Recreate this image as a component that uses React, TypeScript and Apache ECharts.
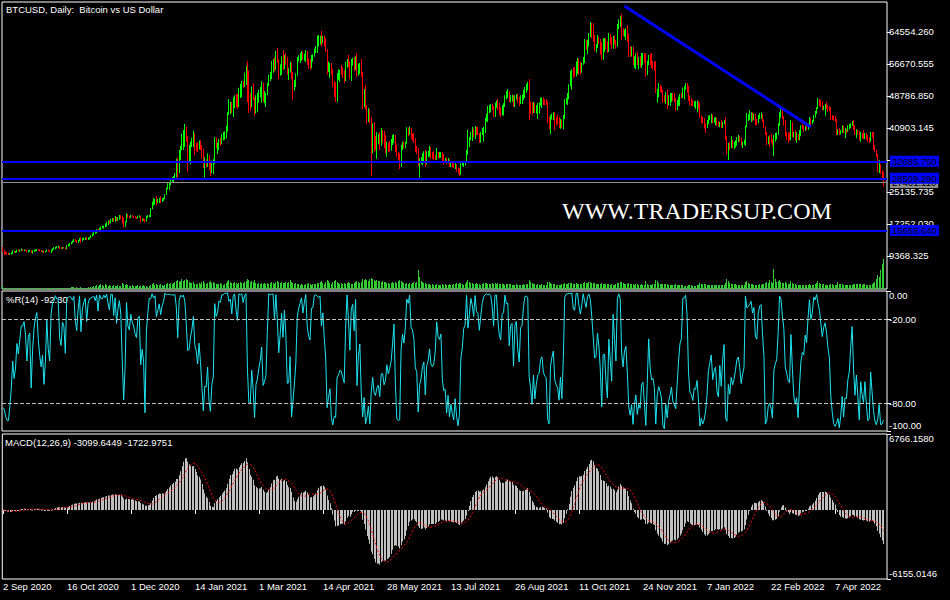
import React, { useEffect, useRef } from "react";
import * as echarts from "echarts";

// ---------- data (prices in thousands of USD) ----------
const tickLabels = [
  "2 Sep 2020", "16 Oct 2020", "1 Dec 2020", "14 Jan 2021", "1 Mar 2021", "14 Apr 2021", "28 May 2021",
  "13 Jul 2021", "26 Aug 2021", "11 Oct 2021", "24 Nov 2021", "7 Jan 2022", "22 Feb 2022", "7 Apr 2022",
];
const barsPerLabel = 45;
const firstOpen = 11.5;

const highs = [
  11.6,10.9,10.5,10.3,10.2,10.1,10.3,10.8,10.7,10.6,
  11.0,10.95,11.0,11.2,11.1,11.0,11.0,10.9,10.8,10.85,
  10.75,10.8,10.9,11.05,11.1,11.05,10.95,10.8,10.7,10.7,
  10.6,11.0,10.95,10.8,11.0,11.3,11.5,11.6,11.85,11.9,
  11.85,11.55,11.6,11.6,11.55,12.05,12.3,12.6,12.85,13.2,
  13.55,13.5,13.4,13.3,13.8,14.0,13.8,13.9,13.95,14.0,
  13.9,14.05,14.5,14.9,15.3,15.5,16.0,16.1,16.3,16.7,
  16.8,16.8,17.4,17.8,18.2,18.1,18.5,18.7,18.8,19.2,
  19.0,18.9,19.45,19.4,19.3,18.9,17.9,19.9,19.7,19.3,
  19.5,19.4,19.3,19.2,19.0,19.3,19.4,19.3,18.6,18.7,
  18.5,19.3,19.4,19.45,21.2,22.8,23.6,23.5,24.1,23.5,
  23.65,24.1,23.6,23.7,24.6,26.2,27.3,27.4,28.5,28.8,
  29.1,29.8,33.3,33.5,35.5,36.5,39.5,40.4,41.9,41.3,
  38.9,36.7,37.5,38.5,40.2,39.7,37.2,37.4,37.9,37.8,
  36.7,35.7,33.7,33.2,34.7,34.2,32.5,32.9,33.2,38.7,
  38.6,37.3,38.2,38.5,39.5,39.9,40.1,41.5,44.8,48.0,
  47.3,47.3,48.5,49.0,49.3,49.3,50.8,51.8,52.5,52.5,
  54.5,56.2,57.4,55.0,49.5,51.2,52.0,48.5,49.0,49.5,
  50.3,51.0,52.4,52.1,50.0,49.5,52.0,54.0,54.7,57.4,
  57.9,58.4,59.9,60.6,57.8,56.6,58.6,60.1,58.9,59.4,
  58.4,55.6,57.2,57.0,54.7,52.7,54.4,58.4,58.8,59.4,
  59.9,59.6,59.2,60.1,59.9,58.1,57.9,58.9,59.1,60.5,
  61.1,63.6,63.8,63.6,64.8,63.6,63.7,63.0,60.3,57.3,
  56.9,56.9,55.4,52.5,52.2,54.4,55.4,55.2,56.4,55.9,
  55.2,57.2,57.9,58.9,57.4,57.9,58.2,58.4,58.6,59.4,
  56.8,56.9,57.9,54.7,50.5,51.5,46.6,45.8,45.5,43.6,
  42.1,42.3,39.0,39.9,39.5,39.9,40.9,40.4,40.2,39.2,
  37.5,37.3,37.7,38.2,39.2,39.4,39.2,36.7,35.0,34.7,
  36.7,37.5,37.6,37.5,41.1,41.0,41.2,40.9,39.6,39.7,
  38.4,36.5,36.0,33.5,33.7,34.7,35.2,35.5,35.2,35.3,
  36.5,36.2,35.0,35.2,34.3,36.0,35.0,35.0,35.0,34.9,
  34.5,33.5,33.6,33.5,33.2,32.5,32.6,32.7,32.3,32.0,
  31.2,31.0,32.5,32.6,32.5,32.6,35.5,40.4,38.7,40.0,
  41.2,40.7,41.4,41.2,41.2,39.7,39.9,40.9,41.2,43.4,
  44.5,46.3,46.6,46.8,46.9,46.3,47.1,47.7,48.1,47.1,
  46.1,46.6,47.0,49.0,50.0,50.5,50.0,49.0,49.1,49.0,
  49.0,49.3,49.3,48.6,49.0,49.1,50.3,51.0,51.8,52.3,
  52.9,47.4,47.3,47.3,47.1,46.5,47.1,47.2,48.4,48.4,
  48.5,48.0,48.0,47.5,43.7,44.1,44.5,44.8,44.8,43.6,
  44.3,43.6,43.2,43.0,44.1,48.0,48.4,49.5,51.7,55.0,
  55.4,55.9,55.9,57.3,58.2,58.0,57.2,57.0,58.4,62.8,
  62.5,62.6,64.3,67.0,66.8,66.7,63.8,61.6,63.8,63.3,
  62.8,62.0,63.0,63.1,63.0,62.3,64.3,64.1,63.3,63.6,
  63.6,62.6,66.5,67.7,68.5,69.0,65.5,65.2,65.5,66.3,
  64.1,61.1,60.9,60.9,58.6,59.3,59.6,58.4,58.6,59.4,
  59.4,59.3,59.4,57.5,58.9,59.1,59.4,57.4,57.3,57.4,
  50.5,52.0,51.5,51.2,50.4,49.0,49.8,50.3,49.0,49.5,
  49.5,49.5,49.5,48.3,47.8,48.6,49.3,49.5,50.8,51.2,
  52.0,52.0,51.3,49.0,48.3,47.8,47.5,47.6,47.6,47.5,
  47.1,43.9,43.6,43.4,42.0,42.9,43.9,44.1,44.4,44.2,
  43.5,43.6,43.4,42.6,42.4,42.9,42.4,42.8,43.6,38.9,
  37.2,37.4,38.9,38.0,37.5,37.9,38.7,39.2,39.0,38.5,
  37.5,38.0,41.5,44.6,44.3,45.3,44.8,44.8,44.5,44.4,
  43.2,44.1,44.6,44.8,44.4,43.0,41.3,39.9,38.9,39.2,
  39.4,38.1,39.2,39.7,39.8,42.1,44.8,45.6,45.3,43.8,
  42.9,39.9,39.7,39.9,42.9,42.4,40.0,40.4,39.9,39.5,
  40.4,41.6,41.8,41.6,41.4,41.6,42.0,43.6,43.3,42.9,
  44.1,45.1,46.0,48.3,48.1,47.8,47.5,46.4,46.8,47.3,
  46.6,46.3,46.0,44.1,43.9,43.9,43.1,40.6,40.9,40.4,
  41.6,41.4,40.9,40.7,41.6,41.9,42.1,42.6,42.9,41.6,
  40.6,40.5,40.2,39.9,39.6,40.4,39.7,39.6,39.2,38.6,
  39.9,39.9,39.9,36.7,35.6,34.5,33.0,32.0,30.5,30.1,
];

const lows = [
  10.4,9.7,9.7,9.65,9.6,9.65,9.7,9.9,10.2,10.1,
  10.2,10.5,10.4,10.6,10.6,10.6,10.6,10.2,10.2,10.4,
  10.1,9.9,10.4,10.5,10.6,10.6,10.45,10.3,10.3,10.1,
  10.2,10.4,10.45,10.35,10.1,10.6,11.0,11.0,11.3,11.4,
  11.1,11.1,11.1,11.2,10.9,11.1,11.7,11.8,12.2,12.5,
  12.8,12.8,12.6,12.6,13.0,12.6,13.0,13.3,13.3,13.3,
  13.3,13.5,13.8,14.2,14.4,14.8,15.0,15.4,15.3,15.8,
  16.2,16.1,16.5,16.6,17.0,17.3,17.4,17.8,17.8,17.8,
  18.0,18.0,18.3,18.4,17.4,16.3,16.5,17.6,18.8,18.6,
  18.7,18.9,18.7,18.6,18.5,18.6,18.8,17.6,17.9,18.0,
  17.6,17.8,18.8,18.9,19.0,20.9,21.8,22.0,21.9,22.4,
  22.4,22.4,22.7,22.9,23.4,24.4,25.8,25.7,26.8,27.7,
  27.6,28.1,28.8,28.1,29.8,33.0,35.5,35.5,36.2,37.5,
  30.1,32.3,32.0,36.2,36.2,34.2,35.2,35.0,35.6,35.5,
  33.3,31.0,28.8,31.2,31.3,30.6,29.1,29.8,29.6,32.0,
  35.9,34.5,35.5,36.5,36.9,37.9,38.0,38.3,40.0,44.1,
  44.3,44.6,43.6,45.8,46.0,45.6,46.1,48.3,48.5,50.8,
  51.0,51.5,47.3,44.6,45.0,46.0,47.8,43.9,44.5,44.8,
  47.1,48.5,47.1,47.3,47.0,46.1,49.0,51.2,52.5,53.0,
  54.5,54.9,55.2,57.0,52.9,53.8,54.0,55.2,55.4,56.5,
  54.0,52.7,54.6,52.9,47.8,50.1,51.0,53.8,57.3,56.9,
  57.5,57.7,57.5,57.1,56.4,55.5,55.2,55.6,57.2,58.5,
  59.4,59.4,61.0,61.5,61.0,61.8,61.0,59.6,54.0,54.7,
  53.2,54.0,51.0,48.5,47.3,47.3,52.8,52.2,54.0,53.2,
  52.0,52.5,55.8,55.9,53.0,52.5,56.3,54.9,55.2,53.5,
  53.8,54.2,53.5,45.6,46.0,45.5,41.9,42.4,42.1,29.1,
  34.7,35.0,35.5,33.3,36.9,35.5,36.5,37.3,35.9,34.7,
  33.8,35.0,35.2,35.3,36.7,37.2,35.0,33.8,33.0,30.8,
  31.3,35.5,35.9,35.9,37.0,38.9,39.2,38.2,37.8,37.2,
  35.0,34.5,31.5,28.8,32.0,31.8,32.3,31.3,31.9,33.7,
  33.8,33.3,33.3,33.0,33.0,33.1,33.5,33.5,33.6,32.8,
  31.8,32.3,32.0,32.2,31.3,31.3,31.2,31.0,30.8,30.1,
  29.7,29.1,29.3,31.6,31.3,31.7,32.3,34.3,36.2,37.9,
  37.7,38.7,38.2,39.1,39.2,37.2,37.3,39.2,37.5,39.7,
  42.5,42.4,44.6,44.8,45.4,43.6,43.6,45.9,45.3,44.1,
  43.6,44.0,44.0,46.1,48.0,48.3,47.3,47.2,47.4,46.1,
  46.1,47.9,47.1,46.3,46.8,46.8,47.8,48.3,49.6,50.2,
  42.9,44.4,44.1,44.6,44.6,44.5,43.1,44.4,46.4,45.8,
  46.6,46.5,46.6,42.1,40.6,39.4,43.0,42.9,40.4,41.5,
  41.9,40.9,40.7,40.9,40.6,43.1,46.8,46.6,48.0,51.2,
  50.3,53.2,53.5,53.6,54.2,54.0,54.0,54.5,56.5,56.9,
  60.1,59.1,60.9,63.3,63.0,62.1,59.9,59.5,60.6,61.6,
  59.0,57.7,57.7,59.6,60.3,59.4,59.6,61.4,60.4,60.4,
  61.5,60.4,60.9,65.3,65.8,62.6,63.6,63.4,62.6,62.1,
  58.4,58.4,58.5,56.4,55.7,55.4,56.4,55.4,55.9,55.7,
  56.4,57.0,53.5,53.9,56.4,56.4,55.7,55.4,55.0,49.5,
  47.1,48.5,49.8,49.5,47.1,47.2,46.8,45.6,46.5,46.3,
  47.3,47.6,47.3,45.1,45.3,46.4,46.3,48.3,48.3,48.0,
  50.3,49.6,47.6,46.5,46.3,46.3,46.0,45.6,44.8,45.5,
  43.4,42.1,42.0,40.7,39.7,40.9,41.9,42.9,42.1,42.1,
  42.2,41.6,41.4,41.2,41.1,40.9,40.9,41.8,38.0,34.3,
  33.0,35.5,36.0,36.0,35.8,36.1,36.5,37.4,37.5,36.5,
  36.0,36.8,36.5,41.1,42.6,42.9,42.4,42.6,42.8,41.6,
  41.6,42.1,43.2,43.1,42.3,40.9,39.2,36.7,36.9,36.2,
  37.2,36.5,34.0,37.5,38.1,39.2,41.4,43.4,43.1,41.5,
  38.9,38.0,37.2,37.8,37.9,38.7,38.5,37.7,37.2,37.9,
  37.9,38.9,40.6,40.0,40.2,40.4,40.5,41.1,41.6,41.8,
  42.4,43.4,44.4,45.6,46.3,46.1,45.3,45.3,43.9,45.6,
  44.8,45.0,42.9,42.9,42.7,42.4,39.2,39.2,39.2,39.3,
  39.7,39.7,38.4,39.5,40.0,40.6,40.9,41.4,40.4,39.2,
  38.4,39.2,37.9,37.5,38.3,38.2,38.2,38.0,37.5,37.2,
  37.5,38.5,35.5,35.0,33.8,30.0,29.8,29.5,28.3,26.4,
];

const closes = [
  10.6,10.0,9.9,9.8,9.75,9.95,10.2,10.6,10.35,10.5,
  10.85,10.7,10.9,11.1,10.8,10.85,10.7,10.4,10.7,10.75,
  10.3,10.65,10.85,10.95,11.0,10.75,10.6,10.45,10.55,10.3,
  10.5,10.85,10.6,10.5,10.9,11.2,11.4,11.55,11.75,11.8,
  11.3,11.2,11.5,11.45,11.1,11.95,12.2,12.5,12.75,13.05,
  13.45,13.0,12.8,13.2,13.7,13.1,13.6,13.75,13.85,13.5,
  13.8,13.95,14.4,14.8,15.2,15.3,15.9,15.6,16.2,16.5,
  16.6,16.7,17.2,17.7,17.8,17.6,18.4,18.6,18.1,19.0,
  18.3,18.7,19.2,18.9,17.8,17.0,17.7,19.6,19.0,18.9,
  19.3,19.1,19.0,18.8,18.7,19.2,19.25,18.0,18.4,18.2,
  17.9,19.1,19.2,19.4,21.0,22.7,23.3,23.4,22.9,23.2,
  23.5,23.0,23.4,23.6,24.5,26.0,27.1,27.2,28.3,28.6,
  28.9,29.6,32.1,29.8,34.6,36.1,38.8,39.9,40.6,38.2,
  35.0,35.6,37.2,38.0,39.4,36.6,36.0,35.6,37.5,35.9,
  33.8,31.8,32.8,32.4,34.0,31.2,30.4,32.6,33.0,37.8,
  36.9,37.2,38.0,37.9,39.2,39.6,39.9,41.3,44.6,46.6,
  46.9,45.0,47.9,48.7,47.3,46.4,50.5,51.4,52.2,51.3,
  54.0,55.9,49.7,46.4,46.3,49.6,48.4,45.2,48.4,48.9,
  49.9,50.7,52.0,48.3,48.7,49.2,51.8,53.8,54.4,57.1,
  57.6,55.6,59.5,57.6,54.2,56.1,58.3,55.8,58.6,57.0,
  54.4,55.3,56.9,53.5,50.5,52.1,54.0,57.8,58.6,59.0,
  59.5,58.0,58.9,59.8,57.0,56.1,55.8,58.6,58.9,60.2,
  60.9,63.3,63.4,63.5,62.4,63.3,61.6,60.2,55.8,56.6,
  56.7,54.3,51.6,50.2,49.0,54.0,54.3,54.9,54.3,53.6,
  52.7,56.8,57.6,56.5,54.0,57.4,57.8,55.6,58.2,54.4,
  56.0,56.6,54.0,47.0,48.9,46.2,43.6,45.0,42.8,37.5,
  40.7,37.4,36.8,38.0,38.5,36.2,39.5,38.3,36.5,35.4,
  37.0,35.8,35.6,37.8,38.9,39.1,35.8,34.4,33.6,31.6,
  36.4,37.3,36.2,37.2,40.5,40.2,40.9,38.5,38.3,37.6,
  35.5,35.2,32.2,32.9,33.4,34.5,34.9,32.0,34.6,35.0,
  35.9,34.0,33.8,33.4,33.2,34.8,34.0,34.7,34.9,33.2,
  32.8,33.2,32.4,33.0,31.8,32.2,31.8,31.4,32.0,30.6,
  29.9,29.8,32.1,32.3,32.4,32.5,35.3,37.4,38.5,39.8,
  40.0,39.0,41.0,39.6,39.4,38.0,39.6,40.5,41.0,43.1,
  44.3,46.0,46.4,46.5,45.8,44.5,46.8,47.4,45.9,44.7,
  44.4,46.3,46.8,48.8,49.3,49.9,47.8,48.8,48.9,46.8,
  48.8,49.0,47.6,47.0,48.8,48.9,50.0,50.8,51.6,52.0,
  46.8,46.0,44.8,46.9,45.2,46.2,46.9,47.0,48.0,48.2,
  47.1,46.8,46.7,43.0,41.0,43.6,44.2,44.6,42.7,42.4,
  42.2,41.4,42.9,41.5,43.8,47.6,48.2,49.3,51.5,54.7,
  55.2,53.9,53.8,57.0,57.9,56.3,55.3,56.5,58.1,61.6,
  60.9,62.2,64.0,66.0,64.5,62.6,60.6,60.9,63.1,61.9,
  60.0,58.3,62.4,62.8,61.0,59.9,63.8,62.3,60.9,63.2,
  62.0,61.0,66.0,67.5,67.9,64.0,63.8,64.9,65.2,63.5,
  60.2,59.6,60.4,57.0,58.2,58.9,57.0,58.0,57.6,59.0,
  59.2,57.5,54.0,57.1,58.5,56.9,56.2,55.8,55.4,50.0,
  50.2,51.0,50.6,50.0,47.6,47.3,49.2,46.9,48.5,49.1,
  49.3,48.1,47.8,46.2,47.4,48.3,48.9,48.6,50.5,50.9,
  51.8,50.8,48.0,47.0,46.9,46.6,47.2,47.3,47.4,46.4,
  43.7,43.0,42.5,41.6,41.4,42.7,43.7,43.9,44.1,42.6,
  43.1,43.3,41.9,41.5,41.9,41.2,42.1,42.6,38.6,35.0,
  36.8,36.0,37.3,36.5,36.9,37.6,38.4,38.6,37.8,36.6,
  37.3,37.8,41.2,43.2,43.6,44.4,44.6,43.8,44.2,42.3,
  42.1,43.8,44.3,44.4,42.6,41.2,39.5,37.3,38.2,37.9,
  37.6,37.0,38.7,39.2,39.5,41.6,44.4,44.9,43.5,42.5,
  39.3,38.8,38.2,38.0,42.0,39.2,39.3,38.8,39.2,38.0,
  39.9,41.2,40.9,40.3,41.1,40.8,41.8,43.2,42.3,42.6,
  43.8,44.6,45.8,47.4,47.0,46.4,45.6,46.2,46.5,46.0,
  45.4,45.1,43.4,43.2,43.0,42.6,39.7,40.0,39.4,40.1,
  41.2,40.0,40.5,40.3,41.3,41.6,41.8,42.5,40.8,39.6,
  40.2,39.5,38.3,39.4,38.9,38.6,39.4,38.5,37.9,37.7,
  39.6,38.8,36.4,35.4,34.1,30.9,31.8,30.0,28.9,27.461,
];

// tick volume (thousands of ticks)
const volumes = [
  3,1,1,0,1,0,1,1,0,1, 1,0,1,1,0,1,0,1,1,0, 1,1,0,1,0,1,1,0,1,1, 0,1,1,0,1,1,1,0,1,1,
  1,0,1,1,1,0,1,1,2,2, 2,1,2,1,1,2,1,1,1,1, 2,1,2,2,3,3,4,3,4,5, 4,3,5,4,3,4,3,3,4,3,
  3,4,3,3,6,5,4,5,4,3, 3,4,3,3,3,4,3,3,3,4, 3,3,2,3,4,5,6,4,5,4, 4,5,4,3,4,5,6,5,6,5,
  6,7,8,9,7,8,10,8,9,10, 9,7,6,6,7,5,5,5,6,5, 7,8,6,5,6,7,8,6,7,6, 5,5,5,6,5,4,5,6,8,9,
  7,6,6,7,6,5,6,7,6,6, 7,8,10,9,7,8,7,9,6,5, 6,5,6,5,6,5,6,5,6,7, 6,5,7,8,7,6,7,6,6,7,
  6,7,9,7,6,5,6,5,5,4, 5,4,4,5,5,6,5,4,5,5, 5,6,6,7,8,6,5,7,9,8, 6,5,7,8,9,7,6,5,6,5,
  6,5,6,7,6,5,5,6,7,8, 7,6,7,10,9,10,9,8,10,11, 10,9,8,9,8,8,7,8,7,7, 6,6,5,6,7,6,7,6,8,9,
  8,7,6,5,6,5,6,5,6,7, 6,7,19,12,8,7,6,6,5,5, 5,4,5,4,4,5,4,4,4,5, 4,5,4,4,5,4,4,5,5,6,
  5,6,6,5,4,5,7,9,7,6, 6,5,5,6,5,5,4,5,6,6, 6,5,5,5,6,5,6,5,6,5, 5,5,5,4,5,5,5,5,4,4,
  4,5,4,4,4,4,5,4,5,5, 9,7,6,5,5,4,5,4,4,5, 4,4,4,7,7,6,5,5,5,4, 4,4,4,5,5,6,5,5,6,6,
  6,5,5,6,5,5,5,5,6,7, 6,6,7,7,6,6,6,5,5,5, 5,6,5,5,5,5,5,4,5,4, 4,5,6,6,7,7,6,5,5,5,
  6,5,5,5,4,5,5,4,4,5, 4,4,8,5,4,4,4,5,5,9, 8,6,5,5,5,5,5,5,4,4, 4,4,4,5,4,4,4,4,4,3,
  3,3,4,4,4,3,3,3,4,4, 6,5,5,5,5,4,4,4,4,4, 4,4,4,4,4,4,4,4,6,10, 8,6,5,5,5,5,4,4,4,4,
  4,4,7,8,6,5,5,5,4,4, 4,4,5,4,5,5,6,7,6,9, 7,6,20,10,7,8,9,7,6,6, 7,6,5,5,8,6,5,5,4,4,
  4,4,4,4,4,4,4,5,4,4, 4,5,6,8,6,5,5,5,4,4, 4,4,5,5,4,4,4,7,5,5, 5,4,4,4,4,4,4,4,5,5,
  5,5,5,5,4,5,5,4,4,4, 4,5,6,7,10,14,12,19,25,30,
];

const levelPrices = [32685.75, 28509.289, 15658.643];
const bidPrice = 27461.111;
const trendLine = [[437, 70960], [568, 41150]];
const priceTicks = [64554.26, 56670.555, 48786.85, 40903.145, 33019.44, 25135.735, 17252.03, 9368.325];
// 33019.440 is entirely hidden under the 32685.750 level tag in the picture
const priceLabelValues = [64554.26, 56670.555, 48786.85, 40903.145, 25135.735, 17252.03, 9368.325];
const priceRange = [1238.2, 71945.2];
const wprTicks = [0, -20, -80, -100];
const wprLevels = [-20, -80];
const macdRange = [-6155.0146, 6766.158];
const titleText = "BTCUSD, Daily:  Bitcoin vs US Dollar";
const wprText = "%R(14) -92.30";
const macdText = "MACD(12,26,9) -3099.6449 -1722.9751";
const watermark = "WWW.TRADERSUP.COM";

// ---------- styling ----------
const FONT = '"Liberation Sans", Arial, sans-serif';
const FS = 9.5;
const UP = "#00ff00";
const DOWN = "#ff0000";
const VOL = "#32cd32";
const WPR = "#1ee3f0";
const SILVER = "#c0c0c0";

function ema(src: number[], n: number) {
  const k = 2 / (n + 1);
  const out: number[] = [];
  let prev = src[0];
  src.forEach((v, i) => {
    prev = i === 0 ? v : v * k + prev * (1 - k);
    out.push(prev);
  });
  return out;
}

function buildOption() {
  const N = closes.length;
  const nCat = N + 2;
  const cats = Array.from({ length: nCat }, (_, i) => String(i));
  const opens = closes.map((c, i) => (i === 0 ? firstOpen : closes[i - 1]));
  const closeUsd = closes.map((c) => c * 1000);

  const barData = closes.map((c, i) => [i, lows[i] * 1000, highs[i] * 1000, c >= opens[i] ? 1 : -1]);
  const volData = volumes.map((v, i) => [i, 0, v]);

  const e12 = ema(closeUsd, 12);
  const e26 = ema(closeUsd, 26);
  const macd = e12.map((v, i) => v - e26[i]);
  const signal = macd.map((_, i) => {
    const s = Math.max(0, i - 8);
    let sum = 0;
    for (let j = s; j <= i; j++) sum += macd[j];
    return sum / (i - s + 1);
  });
  const macdData = macd.map((m, i) => [i, Math.min(0, m), Math.max(0, m)]);

  const wpr = closes.map((c, i) => {
    const s = Math.max(0, i - 13);
    let hh = -Infinity;
    let ll = Infinity;
    for (let j = s; j <= i; j++) {
      hh = Math.max(hh, highs[j]);
      ll = Math.min(ll, lows[j]);
    }
    return hh === ll ? -50 : (-100 * (hh - c)) / (hh - ll);
  });

  const isLabel = (idx: number) => idx % barsPerLabel === 0 && idx / barsPerLabel < tickLabels.length;

  const rectRender = (colorFn: (api: any) => string) => (params: any, api: any) => {
    const i = api.value(0);
    const a = api.coord([i, api.value(1)]);
    const b = api.coord([i, api.value(2)]);
    const x = Math.round(a[0] - 0.5);
    const top = Math.min(a[1], b[1]);
    const h = Math.max(1, Math.abs(a[1] - b[1]));
    return { type: "rect", shape: { x, y: top, width: 1, height: h }, style: { fill: colorFn(api) } };
  };

  const gridBase = { left: 2, right: 63, show: true, borderColor: "#ffffff", borderWidth: 1, backgroundColor: "#000" };
  const hiddenX = (gi: number) => ({
    type: "category", gridIndex: gi, data: cats, boundaryGap: true,
    axisLine: { show: false }, axisTick: { show: false }, axisLabel: { show: false }, splitLine: { show: false },
  });
  const labelBase = { color: "#ffffff", fontSize: FS, fontFamily: FONT, margin: 2 };
  const tickBase = { show: true, length: 4, lineStyle: { color: "#ffffff" } };

  const levelLabel = (bg: string) => ({
    show: true, position: "end", distance: 3, color: "#000", backgroundColor: bg,
    padding: [1, 2, 0, 2], fontSize: FS, fontFamily: FONT,
    formatter: (p: any) => Number(p.value).toFixed(3),
  });

  return {
    animation: false,
    backgroundColor: "#000000",
    grid: [
      { ...gridBase, top: 2, height: 287 },
      { ...gridBase, top: 291, height: 140 },
      { ...gridBase, top: 434, height: 145 },
    ],
    xAxis: [
      hiddenX(0),
      hiddenX(1),
      {
        type: "category", gridIndex: 2, data: cats, boundaryGap: true,
        axisLine: { show: false },
        axisTick: { ...tickBase, alignWithLabel: true, interval: (idx: number) => isLabel(idx) },
        axisLabel: {
          ...labelBase, align: "left", interval: (idx: number) => isLabel(idx),
          formatter: (_v: string, idx: number) => (isLabel(idx) ? tickLabels[idx / barsPerLabel] : ""),
        },
        splitLine: { show: false },
      },
    ],
    yAxis: [
      {
        type: "value", gridIndex: 0, position: "right", min: priceRange[0], max: priceRange[1],
        axisLine: { show: false }, splitLine: { show: false },
        axisTick: { ...tickBase, customValues: priceTicks },
        axisLabel: { ...labelBase, customValues: priceLabelValues, formatter: (v: number) => v.toFixed(3) },
      },
      { type: "value", gridIndex: 0, min: 0, max: 287, show: false, splitLine: { show: false } },
      {
        type: "value", gridIndex: 1, position: "right", min: -100, max: 0,
        axisLine: { show: false }, splitLine: { show: false },
        axisTick: { ...tickBase, customValues: wprTicks },
        axisLabel: {
          ...labelBase, customValues: wprTicks,
          formatter: (v: number) => (v === 0 ? "{t|0.00}" : v === -100 ? "{b|-100.00}" : v.toFixed(2)),
          rich: {
            t: { padding: [8, 0, 0, 0], color: "#fff", fontSize: FS, fontFamily: FONT },
            b: { padding: [0, 0, 12, 0], color: "#fff", fontSize: FS, fontFamily: FONT },
          },
        },
      },
      {
        type: "value", gridIndex: 2, position: "right", min: macdRange[0], max: macdRange[1],
        axisLine: { show: false }, splitLine: { show: false },
        axisTick: { ...tickBase, customValues: macdRange },
        axisLabel: {
          ...labelBase, customValues: macdRange,
          formatter: (v: number) => (v > 0 ? "{t|" + v.toFixed(4) + "}" : "{b|" + v.toFixed(4) + "}"),
          rich: {
            t: { padding: [8, 0, 0, 0], color: "#fff", fontSize: FS, fontFamily: FONT },
            b: { padding: [0, 0, 12, 0], color: "#fff", fontSize: FS, fontFamily: FONT },
          },
        },
      },
    ],
    series: [
      {
        type: "custom", name: "volume", xAxisIndex: 0, yAxisIndex: 1, silent: true,
        encode: { x: 0, y: [1, 2] }, data: volData, renderItem: rectRender(() => VOL),
      },
      {
        type: "custom", name: "bars", xAxisIndex: 0, yAxisIndex: 0, silent: true, z: 3,
        encode: { x: 0, y: [1, 2] }, data: barData,
        renderItem: rectRender((api: any) => (api.value(3) > 0 ? UP : DOWN)),
      },
      {
        type: "line", name: "levels", xAxisIndex: 0, yAxisIndex: 0, silent: true, z: 4,
        data: closeUsd, showSymbol: false, lineStyle: { opacity: 0, width: 0 },
        markLine: {
          silent: true, symbol: ["none", "none"], animation: false,
          data: [
            { yAxis: bidPrice, lineStyle: { color: "#8c8c8c", width: 1, type: "solid" }, label: levelLabel("#8c8c8c") },
            ...levelPrices.map((v) => ({
              yAxis: v, lineStyle: { color: "#0000ff", width: 2, type: "solid" }, label: levelLabel("#0000ff"),
            })),
          ],
        },
      },
      {
        type: "line", name: "trend", xAxisIndex: 0, yAxisIndex: 0, silent: true, z: 5,
        data: trendLine, showSymbol: false, lineStyle: { color: "#0000ff", width: 3 },
      },
      {
        type: "line", name: "wpr", xAxisIndex: 1, yAxisIndex: 2, silent: true,
        data: wpr, showSymbol: false, lineStyle: { color: WPR, width: 1 },
        markLine: {
          silent: true, symbol: ["none", "none"], label: { show: false },
          lineStyle: { color: SILVER, width: 1, type: [4, 2] },
          data: wprLevels.map((v) => ({ yAxis: v })),
        },
      },
      {
        type: "custom", name: "macd", xAxisIndex: 2, yAxisIndex: 3, silent: true,
        encode: { x: 0, y: [1, 2] }, data: macdData, renderItem: rectRender(() => SILVER),
      },
      {
        type: "line", name: "signal", xAxisIndex: 2, yAxisIndex: 3, silent: true, z: 4,
        data: signal, showSymbol: false, lineStyle: { color: "#ff0000", width: 1, type: [2, 2] },
      },
    ],
    graphic: {
      elements: [
        { type: "text", x: 6, y: 4, silent: true, style: { text: titleText, fill: "#fff", fontSize: FS, fontFamily: FONT, verticalAlign: "top" } },
        { type: "text", x: 6, y: 294, silent: true, style: { text: wprText, fill: "#fff", fontSize: FS, fontFamily: FONT, verticalAlign: "top" } },
        { type: "text", x: 5, y: 437, silent: true, style: { text: macdText, fill: "#fff", fontSize: FS, fontFamily: FONT, verticalAlign: "top" } },
        { type: "text", x: 562, y: 211, silent: true, z: 10, style: { text: watermark, fill: "#fff", fontSize: 24, fontFamily: '"Liberation Serif", "Times New Roman", serif', verticalAlign: "middle" } },
      ],
    },
  };
}

export default function App() {
  const ref = useRef<HTMLDivElement>(null);
  useEffect(() => {
    if (!ref.current) return;
    const chart = echarts.init(ref.current, null, { renderer: "svg" });
    chart.setOption(buildOption() as any);
    return () => chart.dispose();
  }, []);
  return <div ref={ref} style={{ position: "fixed", left: 0, top: 0, width: 950, height: 600, background: "#000" }} />;
}
